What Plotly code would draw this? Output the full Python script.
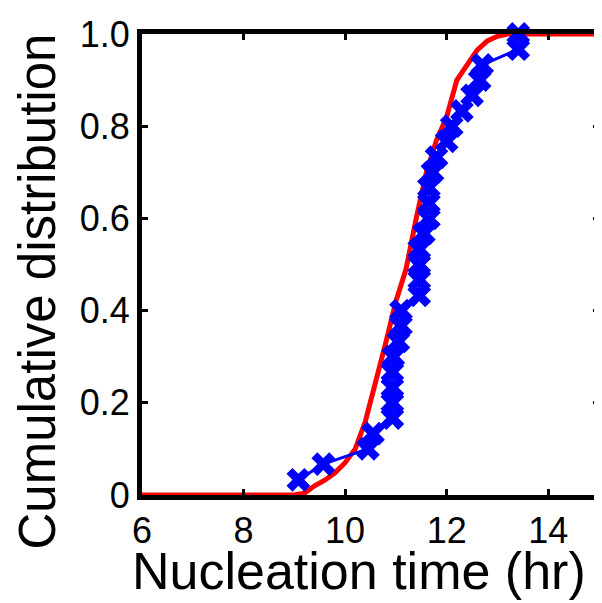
import plotly.graph_objects as go

# measured nucleation times (empirical CDF, blue crosses)
obs_time = [9.08, 9.57, 10.45, 10.55, 10.93, 10.93, 10.93, 10.93, 10.95, 11.05,
            11.10, 11.10, 11.46, 11.46, 11.46, 11.46, 11.55, 11.65, 11.65, 11.65,
            11.72, 11.80, 12.00, 12.10, 12.30, 12.50, 12.65, 12.70, 13.41, 13.41]
obs_cdf = [0.033, 0.067, 0.100, 0.133, 0.167, 0.200, 0.233, 0.267, 0.300, 0.333,
           0.367, 0.400, 0.433, 0.467, 0.500, 0.533, 0.567, 0.600, 0.633, 0.667,
           0.700, 0.733, 0.767, 0.800, 0.833, 0.867, 0.900, 0.933, 0.967, 1.000]

# model curve (red)
model_time = [6, 9.0, 9.2, 9.4, 9.6, 9.8, 10.0, 10.2, 10.4, 10.6, 10.8, 11.0, 11.2,
              11.4, 11.6, 11.8, 12.0, 12.2, 12.4, 12.6, 12.8, 13.0, 13.2, 13.4, 15]
model_cdf = [0, 0, 0.004, 0.02, 0.032, 0.048, 0.07, 0.10, 0.16, 0.24, 0.33, 0.42,
             0.49, 0.60, 0.70, 0.77, 0.82, 0.90, 0.935, 0.965, 0.985, 0.995, 1.0, 1.0, 1.0]

x_ticks = [6, 8, 10, 12, 14]
y_ticks = [0, 0.2, 0.4, 0.6, 0.8, 1.0]
y_labels = ['0', '0.2', '0.4', '0.6', '0.8', '1.0']

fig = go.Figure()
fig.add_trace(go.Scatter(x=model_time, y=model_cdf, mode='lines',
                         line=dict(color='#ff0000', width=5), cliponaxis=False))
fig.add_trace(go.Scatter(x=obs_time, y=obs_cdf, mode='lines+markers',
                         line=dict(color='#0000ff', width=3),
                         marker=dict(symbol='x', size=21, color='#0000ff'),
                         cliponaxis=False))

fam = 'Arial'
tick_font = dict(family=fam, size=36, color='black')
# page body adds 8px, so the figure is 8px smaller and shifted
fig.update_layout(
    width=594, height=595,
    margin=dict(l=134, r=3, t=26, b=108),
    paper_bgcolor='white', plot_bgcolor='white',
    showlegend=False,
    font=dict(family=fam, color='black'),
)
fig.update_xaxes(range=[6, 15], tickvals=x_ticks, ticks='inside', ticklen=6, tickwidth=3,
                 tickcolor='black', showline=True, linewidth=5, linecolor='black',
                 mirror='ticks', showgrid=False, zeroline=False, tickfont=tick_font,
                 automargin=False)
fig.update_yaxes(range=[0, 1], tickvals=y_ticks, ticktext=y_labels, ticks='inside', ticklen=6,
                 tickwidth=3, tickcolor='black', showline=True, linewidth=5, linecolor='black',
                 mirror='ticks', showgrid=False, zeroline=False, tickfont=tick_font,
                 automargin=False)

# axis titles
fig.add_annotation(text='Nucleation time (hr)', xref='paper', yref='paper', x=0.475, y=0,
                   yshift=-76, xanchor='center', yanchor='middle', showarrow=False,
                   font=dict(size=52, family=fam, color='black'))
fig.add_annotation(text='Cumulative distribution', xref='paper', yref='paper', x=0, y=0.5,
                   xshift=-105, yshift=-27, textangle=-90, xanchor='center', yanchor='middle',
                   showarrow=False, font=dict(size=51, family=fam, color='black'))

fig.write_html("out.html")
